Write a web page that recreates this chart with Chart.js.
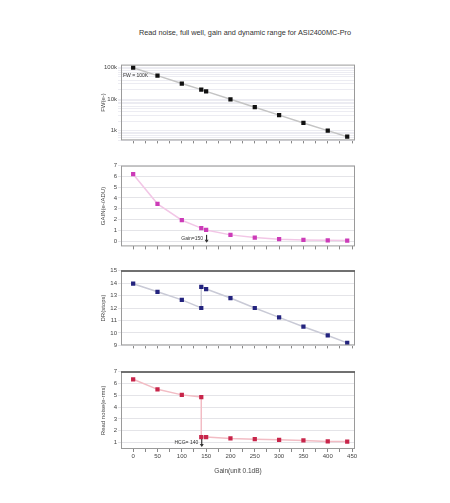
<!DOCTYPE html>
<html><head><meta charset="utf-8">
<script src="https://cdn.jsdelivr.net/npm/chart.js@4/dist/chart.umd.min.js"></script>
<style>
html,body{margin:0;padding:0;background:#fff;width:450px;height:503px;overflow:hidden;font-family:"Liberation Sans",Arial,sans-serif}
canvas{position:absolute}
#title{position:absolute;left:0;width:490px;top:28px;text-align:center;font-size:7.3px;color:#333;white-space:nowrap}
</style></head><body>
<div id="title">Read noise, full well, gain and dynamic range for ASI2400MC-Pro</div>
<canvas id="c1" width="265" height="85" style="left:100px;top:60px"></canvas>
<canvas id="c2" width="265" height="90" style="left:100px;top:161px"></canvas>
<canvas id="c3" width="265" height="84" style="left:100px;top:266px"></canvas>
<canvas id="c4" width="265" height="108" style="left:100px;top:367px"></canvas>
<script>
// ---- data ----
const gainLevels = [0, 50, 100, 140, 150, 200, 250, 300, 350, 400, 440];
const gainLevelsHCG = [0, 50, 100, 140, 140, 150, 200, 250, 300, 350, 400, 440];
const fullWell = [98000, 55000, 31000, 19800, 17500, 9800, 5500, 3100, 1750, 1000, 640];
const gainEADU = [6.2, 3.45, 1.93, 1.2, 1.03, 0.57, 0.32, 0.17, 0.1, 0.06, 0.04];
const dynRange = [13.95, 13.3, 12.65, 12.0, 13.7, 13.52, 12.8, 12.0, 11.25, 10.5, 9.8, 9.2];
const readNoise = [6.35, 5.5, 5.03, 4.85, 1.46, 1.46, 1.34, 1.28, 1.23, 1.17, 1.09, 1.08];
const xTicks = [0, 25, 50, 75, 100, 125, 150, 175, 200, 225, 250, 275, 300, 325, 350, 375, 400, 425, 450];
const fwTickLabels = {1000: '1k', 10000: '10k', 100000: '100k'};
const gainTicks = [0, 1, 2, 3, 4, 5, 6, 7];
const drTicks = [9, 10, 11, 12, 13, 14, 15];
const rnTicks = [1, 2, 3, 4, 5, 6, 7];

const FONT = {family: '"Liberation Sans", Arial, sans-serif', size: 6};
const TICKC = '#444';
const GRIDC = '#e4e4e8';

function pts(xs, ys){ return xs.map((x,i)=>({x, y: ys[i]})); }

const framePlugin = {
  id: 'frame',
  afterDraw(chart, args, opts){
    const a = chart.chartArea, ctx = chart.ctx;
    ctx.save();
    ctx.strokeStyle = '#9a9a9a'; ctx.lineWidth = 1;
    ctx.strokeRect(a.left + 0.5, a.top + 0.5, a.right - a.left - 1, a.bottom - a.top - 1);
    if (opts.darkTop){
      ctx.strokeStyle = '#555'; ctx.lineWidth = 1.5;
      ctx.beginPath(); ctx.moveTo(a.left, a.top + 0.5); ctx.lineTo(a.right, a.top + 0.5); ctx.stroke();
    }
    if (opts.note){
      const xs = chart.scales.x, ys = chart.scales.y;
      const n = opts.note;
      const px = xs.getPixelForValue(n.x), py = ys.getPixelForValue(n.y);
      ctx.fillStyle = '#333';
      ctx.font = '5px "Liberation Sans", Arial, sans-serif';
      ctx.textAlign = 'right'; ctx.textBaseline = 'middle';
      ctx.fillText(n.text, px - 3, py);
      ctx.strokeStyle = '#111'; ctx.lineWidth = 1;
      ctx.beginPath(); ctx.moveTo(px + 0.5, py - 4); ctx.lineTo(px + 0.5, py + 3); ctx.stroke();
      ctx.beginPath(); ctx.moveTo(px - 1.5, py + 1); ctx.lineTo(px + 0.5, py + 4); ctx.lineTo(px + 2.5, py + 1); ctx.fill();
    }
    if (opts.legend){
      ctx.fillStyle = '#333';
      ctx.font = '5px "Liberation Sans", Arial, sans-serif';
      ctx.textAlign = 'left'; ctx.textBaseline = 'middle';
      ctx.fillText(opts.legend, a.left + 2, a.top + 11);
    }
    ctx.restore();
  }
};

function xScale(showLabels){
  return {
    type: 'linear', min: -25, max: 456,
    afterBuildTicks(s){ s.ticks = xTicks.map(v=>({value:v})); },
    afterFit(s){ s.height = showLabels ? 26 : 4; },
    grid: {drawOnChartArea: false, drawTicks: true, tickLength: 3, color: '#888'},
    border: {display: false},
    ticks: {display: showLabels, font: FONT, color: TICKC, padding: 1, maxRotation: 0, autoSkip: false,
      callback: v => (v % 50 === 0 ? String(v) : '')},
    title: {display: showLabels, text: 'Gain(unit 0.1dB)', font: {family: FONT.family, size: 6.5}, color: '#444', padding: {top: 3, bottom: 0}}
  };
}

function yScale(opts){
  return Object.assign({
    afterFit(s){ s.width = 21; },
    grid: {color: opts.grid || GRIDC, drawTicks: true, tickLength: 3},
    border: {display: false},
    ticks: {font: FONT, color: TICKC, padding: 1, autoSkip: false},
    title: {display: true, text: opts.title, font: {family: FONT.family, size: 6}, color: '#444', padding: 0}
  }, opts.extra);
}

function makeChart(id, data, color, lineColor, y, extraPlugins, pluginOpts, showX){
  return new Chart(document.getElementById(id), {
    type: 'line',
    data: {datasets: [{
      data, borderColor: lineColor, borderWidth: 1.5, backgroundColor: color,
      pointStyle: 'rect', pointRadius: 3, pointBorderWidth: 0, pointBackgroundColor: color,
      tension: 0, fill: false
    }]},
    options: {
      responsive: false, devicePixelRatio: 1, animation: false,
      layout: {padding: {top: 4, right: 10, left: 0, bottom: 0}},
      plugins: {legend: {display: false}, tooltip: {enabled: false}, frame: pluginOpts},
      scales: {x: xScale(showX), y}
    },
    plugins: [framePlugin]
  });
}

// Panel 1: full well (log)
const y1 = yScale({title: 'FW(e-)', grid: '#ececf2', extra: {
  type: 'logarithmic', min: 490, max: 123000,
  afterBuildTicks(s){
    const t = [];
    for (let d = 100; d <= 100000; d *= 10){
      for (let m = 1; m < 10; m++){ const v = d*m; if (v >= 490 && v <= 123000) t.push({value: v}); }
    }
    s.ticks = t;
  }
}});
y1.ticks.callback = v => fwTickLabels[v] || '';
makeChart('c1', pts(gainLevels, fullWell), '#111', '#c4c4c4', y1, null, {legend: 'FW = 100K'}, false);

// Panel 2: gain
const y2 = yScale({title: 'GAIN(e-/ADU)', extra: {
  type: 'linear', min: -0.5, max: 7,
  afterBuildTicks(s){ s.ticks = gainTicks.map(v=>({value:v})); }
}});
makeChart('c2', pts(gainLevels, gainEADU), '#cc3bb8', '#f2c6e6', y2, null, {note: {x: 150, y: 0.2, text: 'Gain=150'}}, false);

// Panel 3: dynamic range
const y3 = yScale({title: 'DR(stops)', extra: {
  type: 'linear', min: 9, max: 15,
  afterBuildTicks(s){ s.ticks = drTicks.map(v=>({value:v})); }
}});
makeChart('c3', pts(gainLevelsHCG, dynRange), '#23237e', '#c9cad6', y3, null, {darkTop: true}, false);

// Panel 4: read noise
const y4 = yScale({title: 'Read noise(e-rms)', extra: {
  type: 'linear', min: 0.45, max: 7,
  afterBuildTicks(s){ s.ticks = rnTicks.map(v=>({value:v})); }
}});
makeChart('c4', pts(gainLevelsHCG, readNoise), '#c8254a', '#f2bcc4', y4, null, {darkTop: true, note: {x: 140, y: 0.95, text: 'HCG= 140'}}, true);
</script>
</body></html>
